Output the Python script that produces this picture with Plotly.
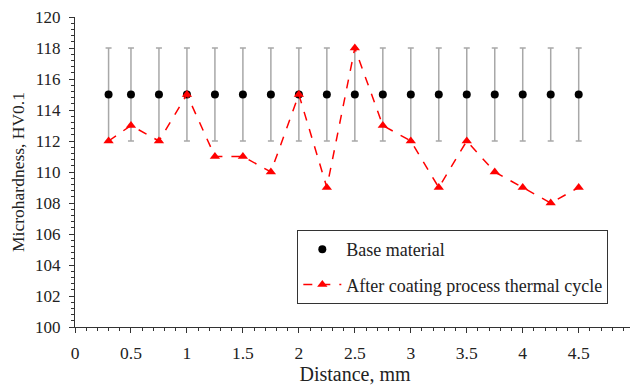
import plotly.graph_objects as go

distance = [0.3, 0.5, 0.75, 1.0, 1.25, 1.5, 1.75, 2.0, 2.25, 2.5, 2.75, 3.0, 3.25, 3.5, 3.75, 4.0, 4.25, 4.5]
base_hv = [115] * 18
base_err = [3] * 18
after_hv = [112, 113, 112, 115, 111, 111, 110, 115, 109, 118, 113, 112, 109, 112, 110, 109, 108, 109]

x_ticks = [0, 0.5, 1, 1.5, 2, 2.5, 3, 3.5, 4, 4.5, 5]
x_ticklabels = ["0", "0.5", "1", "1.5", "2", "2.5", "3", "3.5", "4", "4.5", "5"]
y_ticks = list(range(100, 121, 2))

font = "Times New Roman, Liberation Serif, serif"
txt = "#222"

fig = go.Figure()
fig.add_trace(go.Scatter(
    x=distance, y=base_hv, mode="markers", name="Base material", legendgroup="a",
    marker=dict(color="black", size=8, symbol="circle"),
    error_y=dict(type="data", array=base_err, visible=True, color="#a8a8a8", thickness=1.5, width=3),
))
fig.add_trace(go.Scatter(
    x=distance, y=after_hv, mode="lines+markers", name="After coating process thermal cycle", legendgroup="b",
    line=dict(color="#ff0000", width=1.5, dash="dash"),
    marker=dict(color="#ff0000", size=9, symbol="triangle-up"),
))

fig.update_layout(
    width=638, height=377,
    margin=dict(l=67, r=11, t=9, b=58, autoexpand=False),
    paper_bgcolor="white", plot_bgcolor="white",
    font=dict(family=font, size=17, color=txt),
    showlegend=True,
    legend=dict(
        x=0.397, y=0.313, xanchor="left", yanchor="top",
        bordercolor="#333", borderwidth=1, bgcolor="white",
        font=dict(family=font, size=18, color=txt),
        traceorder="grouped", tracegroupgap=9, itemwidth=38,
    ),
    xaxis=dict(
        range=[0, 5.003], tickvals=x_ticks, ticktext=x_ticklabels, automargin=False,
        showline=True, linecolor="#333", linewidth=1, showgrid=False, zeroline=False,
        ticks="outside", ticklen=5, tickcolor="#333", ticklabelstandoff=5,
        ticklabeloverflow="allow",
        minor=dict(dtick=0.1, ticks="outside", ticklen=3, tickcolor="#333"),
        title=dict(text="Distance, mm", font=dict(family=font, size=20, color=txt), standoff=3),
        tickfont=dict(family=font, size=17.5, color=txt),
    ),
    yaxis=dict(
        range=[100, 120], tickvals=y_ticks, automargin=False,
        showline=True, linecolor="#333", linewidth=1, showgrid=False, zeroline=False,
        ticks="outside", ticklen=5, tickcolor="#333", ticklabelstandoff=5,
        ticklabeloverflow="allow",
        minor=dict(dtick=0.4, ticks="outside", ticklen=3, tickcolor="#333"),
        title=dict(text="Microhardness, HV0.1", font=dict(family=font, size=17.5, color=txt), standoff=8),
        tickfont=dict(family=font, size=17, color=txt),
    ),
)

fig.write_html("out.html")
